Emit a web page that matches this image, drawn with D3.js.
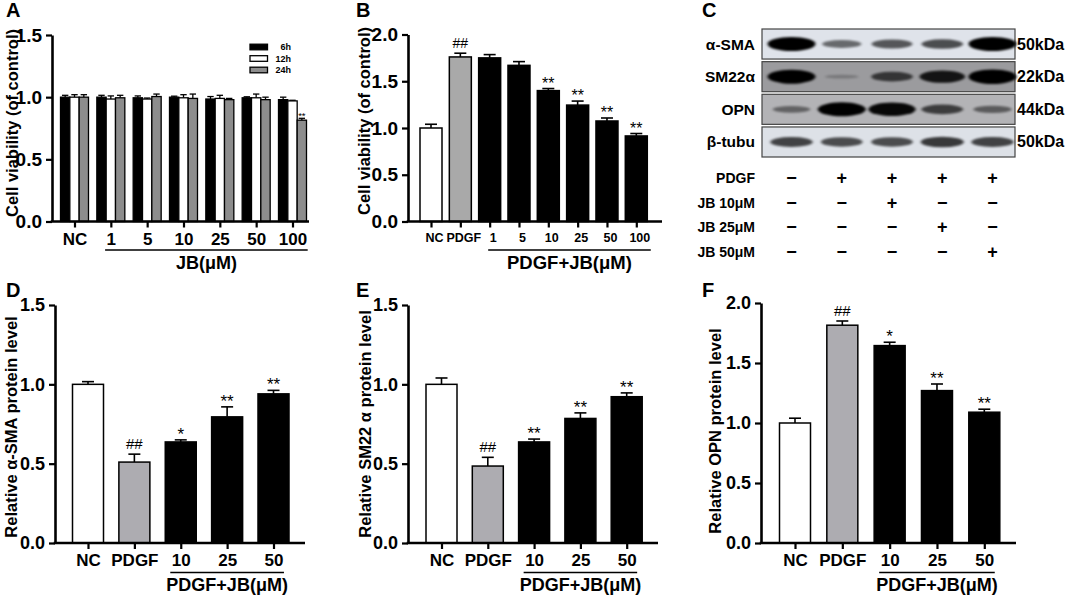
<!DOCTYPE html>
<html>
<head>
<meta charset="utf-8">
<script src="https://cdn.jsdelivr.net/npm/d3@7"></script>
<style>
  body { margin: 0; background: #fff; }
  svg { display: block; font-family: Arial, "Liberation Sans", Helvetica, sans-serif; }
  .axis text { font-weight: bold; fill: #000; }
  .bold { font-weight: bold; }
</style>
</head>
<body>
<div id="chart"></div>
<script>
// ---- 数据 ----
// A: cell viability, JB alone
const aGroups = ["NC", "1", "5", "10", "25", "50", "100"];
const aSeries = ["6h", "12h", "24h"];
const a6h = [1.00, 1.00, 0.995, 1.00, 0.985, 0.995, 0.98];
const a6hErr = [0.015, 0.015, 0.015, 0.008, 0.02, 0.008, 0.02];
const a12h = [1.00, 0.985, 0.985, 0.995, 0.99, 0.995, 0.97];
const a12hErr = [0.02, 0.025, 0.008, 0.025, 0.025, 0.03, 0.005];
const a24h = [1.00, 0.995, 1.005, 0.99, 0.98, 0.98, 0.815];
const a24hErr = [0.02, 0.02, 0.02, 0.035, 0.01, 0.02, 0.015];
const aMarks24h = ["", "", "", "", "", "", "**"];

// B: cell viability with PDGF
const bCats = ["NC", "PDGF", "1", "5", "10", "25", "50", "100"];
const bVals = [1.00, 1.76, 1.75, 1.67, 1.40, 1.245, 1.075, 0.915];
const bErrs = [0.04, 0.04, 0.035, 0.04, 0.022, 0.043, 0.032, 0.026];
const bMarks = ["", "##", "", "", "**", "**", "**", "**"];

// C: western blot (relative band strength per lane) and treatments
const blotRows = ["α-SMA", "SM22α", "OPN", "β-tubu"];
const blotKDa = ["50kDa", "22kDa", "44kDa", "50kDa"];
const bandSMA = [1.0, 0.45, 0.55, 0.6, 1.0];
const bandSM22 = [1.0, 0.08, 0.6, 0.85, 1.05];
const bandOPN = [0.35, 1.0, 0.95, 0.6, 0.4];
const bandTub = [0.65, 0.6, 0.6, 0.7, 0.65];
const treatLabels = ["PDGF", "JB 10μM", "JB 25μM", "JB 50μM"];
const treatPDGF = ["−", "+", "+", "+", "+"];
const treatJB10 = ["−", "−", "+", "−", "−"];
const treatJB25 = ["−", "−", "−", "+", "−"];
const treatJB50 = ["−", "−", "−", "−", "+"];

// D-F: relative protein level
const proteinCats = ["NC", "PDGF", "10", "25", "50"];
const dVals = [1.00, 0.51, 0.637, 0.795, 0.94];
const dErrs = [0.017, 0.05, 0.013, 0.063, 0.022];
const dMarks = ["", "##", "*", "**", "**"];
const eVals = [1.00, 0.485, 0.637, 0.785, 0.922];
const eErrs = [0.04, 0.055, 0.018, 0.035, 0.024];
const eMarks = ["", "##", "**", "**", "**"];
const fVals = [1.00, 1.815, 1.645, 1.27, 1.09];
const fErrs = [0.04, 0.035, 0.028, 0.055, 0.025];
const fMarks = ["", "##", "*", "**", "**"];

// ---- 画布 ----
const width = 1065, height = 597;
const svg = d3.select("#chart").append("svg")
    .attr("width", width)
    .attr("height", height);

svg.append("defs").append("filter")
    .attr("id", "blur").attr("x", "-40%").attr("y", "-150%")
    .attr("width", "180%").attr("height", "400%")
    .append("feGaussianBlur").attr("stdDeviation", "1.8 1.3");

// 坐标轴加粗
function thickAxis(a, w, fontSize) {
    a.select(".domain").attr("stroke", "#000").attr("stroke-width", w);
    a.selectAll(".tick line").attr("stroke", "#000").attr("stroke-width", w * 0.85);
    a.selectAll(".tick text").attr("font-size", fontSize);
}

// y 轴、x 轴、底部横线和标题（各面板共用）
function drawAxes(g, p, x, y) {
    g.append("g").attr("class", "axis")
        .attr("transform", `translate(${p.x0},0)`)
        .call(d3.axisLeft(y).tickValues(p.ticks).tickFormat(d3.format(".1f"))
            .tickSize(6).tickSizeOuter(0).tickPadding(4))
        .call(a => thickAxis(a, 2.6, p.tickFont));

    const xa = g.append("g").attr("class", "axis")
        .attr("transform", `translate(0,${p.yBase})`)
        .call(d3.axisBottom(x).tickSize(6).tickPadding(p.catPad))
        .call(a => thickAxis(a, 2.6, p.catFont));
    xa.select(".domain").remove();
    if (p.catShift) xa.selectAll(".tick text").attr("dx", p.catShift);
    g.append("line")
        .attr("x1", p.x0 - 1.3).attr("x2", p.xEnd)
        .attr("y1", p.yBase).attr("y2", p.yBase)
        .attr("stroke", "#000").attr("stroke-width", 2.6);

    // 处理组下面的横线，宽度跟随刻度文字
    const jb = xa.selectAll(".tick").filter(d => p.jbCats.includes(d)).nodes();
    const left = d3.min(jb, n => x(d3.select(n).datum()) + n.querySelector("text").getBBox().x);
    const right = d3.max(jb, n => {
        const b = n.querySelector("text").getBBox();
        return x(d3.select(n).datum()) + b.x + b.width;
    });
    g.append("line")
        .attr("x1", left - 1).attr("x2", right + 1)
        .attr("y1", p.ulY).attr("y2", p.ulY)
        .attr("stroke", "#000").attr("stroke-width", 1.6);
    g.append("text").attr("class", "bold")
        .attr("x", (left + right) / 2).attr("y", p.ulY + p.ulGap)
        .attr("text-anchor", "middle").attr("font-size", p.ulFont)
        .text(p.ulText);

    // y 轴标题
    g.append("text").attr("class", "bold")
        .attr("transform", `translate(${p.titleX},${p.titleY}) rotate(-90)`)
        .attr("text-anchor", "middle").attr("dominant-baseline", "central")
        .attr("font-size", p.titleFont)
        .text(p.title);
}

// 单组柱状图 (B, D, E, F)
function drawBarPanel(p) {
    const g = svg.append("g");
    const y = d3.scaleLinear().domain([0, p.ymax]).range([p.yBase, p.yTop]);
    const x = d3.scalePoint().domain(p.cats).range([p.cFirst, p.cLast]);
    const fill = i => i === 0 ? "#ffffff" : i === 1 ? p.pdgfFill : "#000000";

    // 误差线 (只画上半)
    const eb = g.selectAll(".eb").data(p.vals).join("g");
    eb.append("line")
        .attr("x1", (d, i) => x(p.cats[i])).attr("x2", (d, i) => x(p.cats[i]))
        .attr("y1", d => y(d)).attr("y2", (d, i) => y(d + p.errs[i]))
        .attr("stroke", "#000").attr("stroke-width", 1.6);
    eb.append("line")
        .attr("x1", (d, i) => x(p.cats[i]) - p.cap / 2)
        .attr("x2", (d, i) => x(p.cats[i]) + p.cap / 2)
        .attr("y1", (d, i) => y(d + p.errs[i])).attr("y2", (d, i) => y(d + p.errs[i]))
        .attr("stroke", "#000").attr("stroke-width", 1.6);

    g.selectAll(".bar").data(p.vals).join("rect")
        .attr("x", (d, i) => x(p.cats[i]) - p.bw / 2)
        .attr("y", d => y(d))
        .attr("width", p.bw)
        .attr("height", d => y(0) - y(d))
        .attr("fill", (d, i) => fill(i))
        .attr("stroke", "#000").attr("stroke-width", 1.5);

    // 显著性标记
    g.selectAll(".sig").data(p.marks).join("text")
        .attr("x", (d, i) => x(p.cats[i]))
        .attr("y", (d, i) => y(p.vals[i] + p.errs[i]) - (d[0] === "#" ? 5 : 0))
        .attr("text-anchor", "middle")
        .attr("font-size", d => d[0] === "#" ? p.sigFont - 2 : p.sigFont)
        .text(d => d);

    drawAxes(g, p, x, y);
}

// ---- A: 分组柱状图 ----
function drawPanelA() {
    const p = {
        x0: 52, xEnd: 309, yBase: 221.5, yTop: 35, ymax: 1.5,
        ticks: [0, 0.5, 1.0, 1.5], tickFont: 19, catFont: 17, catPad: 5,
        jbCats: aGroups.slice(1), ulY: 250, ulGap: 19, ulFont: 18, ulText: "JB(μM)",
        title: "Cell viability (of control)", titleX: 12, titleY: 123, titleFont: 16.5
    };
    const g = svg.append("g");
    const y = d3.scaleLinear().domain([0, p.ymax]).range([p.yBase, p.yTop]);
    const x = d3.scalePoint().domain(aGroups).range([74.5, 292.5]);
    const xs = d3.scaleBand().domain(aSeries).range([-14, 14]);
    const color = d3.scaleOrdinal().domain(aSeries).range(["#000000", "#ffffff", "#8d8d8d"]);
    const series = [
        { key: "6h", vals: a6h, errs: a6hErr },
        { key: "12h", vals: a12h, errs: a12hErr },
        { key: "24h", vals: a24h, errs: a24hErr }
    ];

    series.forEach(s => {
        const cx = i => x(aGroups[i]) + xs(s.key) + xs.bandwidth() / 2;
        const sg = g.append("g");
        sg.selectAll(".eline").data(s.vals).join("line")
            .attr("x1", (d, i) => cx(i)).attr("x2", (d, i) => cx(i))
            .attr("y1", d => y(d)).attr("y2", (d, i) => y(d + s.errs[i]))
            .attr("stroke", "#000").attr("stroke-width", 1.3);
        sg.selectAll(".ecap").data(s.vals).join("line")
            .attr("x1", (d, i) => cx(i) - 3.2).attr("x2", (d, i) => cx(i) + 3.2)
            .attr("y1", (d, i) => y(d + s.errs[i])).attr("y2", (d, i) => y(d + s.errs[i]))
            .attr("stroke", "#000").attr("stroke-width", 1.3);
        sg.selectAll("rect").data(s.vals).join("rect")
            .attr("x", (d, i) => cx(i) - xs.bandwidth() / 2)
            .attr("y", d => y(d))
            .attr("width", xs.bandwidth())
            .attr("height", d => y(0) - y(d))
            .attr("fill", color(s.key))
            .attr("stroke", "#000").attr("stroke-width", 1.3);
    });

    g.selectAll(".sig").data(aMarks24h).join("text")
        .attr("x", (d, i) => x(aGroups[i]) + xs("24h") + xs.bandwidth() / 2)
        .attr("y", (d, i) => y(a24h[i] + a24hErr[i]) + 1)
        .attr("text-anchor", "middle").attr("font-size", 9.5)
        .text(d => d);

    // 图例
    const ly = d3.scalePoint().domain(aSeries).range([47, 70]);
    const lg = g.append("g");
    lg.selectAll("rect").data(aSeries).join("rect")
        .attr("x", 250).attr("y", d => ly(d) - 2.8)
        .attr("width", 17.5).attr("height", 5.6)
        .attr("fill", d => color(d)).attr("stroke", "#000").attr("stroke-width", 1.3);
    lg.selectAll("text").data(aSeries).join("text")
        .attr("class", "bold")
        .attr("x", 291).attr("y", d => ly(d))
        .attr("text-anchor", "end").attr("dominant-baseline", "central")
        .attr("font-size", 9)
        .text(d => d);

    drawAxes(g, p, x, y);
}

// ---- C: 蛋白印迹 ----
function drawPanelC() {
    const g = svg.append("g");
    const lane = d3.scalePoint().domain(d3.range(5)).range([791.5, 992.5]);
    const row = d3.scaleBand().domain(blotRows).range([29, 157]).paddingInner(0.08);
    const rowBg = d3.scaleOrdinal().domain(blotRows).range(["#dfe3ea", "#9b9b9e", "#b3b3b6", "#dde1e7"]);
    const bands = [bandSMA, bandSM22, bandOPN, bandTub];

    blotRows.forEach((r, k) => {
        const top = row(r), h = row.bandwidth();
        g.append("rect")
            .attr("x", 762).attr("y", top).attr("width", 253).attr("height", h)
            .attr("fill", rowBg(r)).attr("stroke", "#444").attr("stroke-width", 1.2);
        g.selectAll(null).data(bands[k]).join("ellipse")
            .attr("cx", (d, i) => lane(i))
            .attr("cy", top + h / 2)
            .attr("rx", d => 16 + 8 * Math.min(d, 1))
            .attr("ry", d => 1.5 + 5.5 * d)
            .attr("fill", "#050505")
            .attr("opacity", d => 0.15 + 0.85 * Math.min(d, 1))
            .attr("filter", "url(#blur)");
        g.append("text").attr("class", "bold")
            .attr("x", 755).attr("y", top + h / 2)
            .attr("text-anchor", "end").attr("dominant-baseline", "central")
            .attr("font-size", 15.5).text(r);
        g.append("text").attr("class", "bold")
            .attr("x", 1017).attr("y", top + h / 2)
            .attr("dominant-baseline", "central")
            .attr("font-size", 16).text(blotKDa[k]);
    });

    // 处理条件表
    const ty = d3.scalePoint().domain(treatLabels).range([178, 252]);
    const signs = [treatPDGF, treatJB10, treatJB25, treatJB50];
    treatLabels.forEach((t, k) => {
        g.append("text").attr("class", "bold")
            .attr("x", 755).attr("y", ty(t))
            .attr("text-anchor", "end").attr("dominant-baseline", "central")
            .attr("font-size", 14).text(t);
        g.selectAll(null).data(signs[k]).join("text")
            .attr("class", "bold")
            .attr("x", (d, i) => lane(i)).attr("y", ty(t))
            .attr("text-anchor", "middle").attr("dominant-baseline", "central")
            .attr("font-size", 18).text(d => d);
    });
}

drawPanelA();

drawBarPanel({
    cats: bCats, vals: bVals, errs: bErrs, marks: bMarks, pdgfFill: "#a9a9a9",
    x0: 408, xEnd: 662, cFirst: 431, cLast: 636.3, bw: 22, cap: 12,
    yBase: 221.5, yTop: 34.5, ymax: 2.0, ticks: [0, 0.5, 1.0, 1.5, 2.0],
    tickFont: 19, catFont: 12.5, catPad: 6, catShift: 3, sigFont: 16,
    jbCats: bCats.slice(2), ulY: 250, ulGap: 19, ulFont: 18.5, ulText: "PDGF+JB(μM)",
    title: "Cell viability (of control)", titleX: 364, titleY: 121, titleFont: 16.5
});

drawPanelC();

const proteinPanel = {
    cats: proteinCats, pdgfFill: "#adacb1", bw: 31, cap: 12,
    yBase: 543, tickFont: 18, catFont: 17, catPad: 5, sigFont: 17,
    jbCats: proteinCats.slice(2), ulY: 572.5, ulGap: 18, ulFont: 18, ulText: "PDGF+JB(μM)",
    titleFont: 16.5
};

drawBarPanel(Object.assign({}, proteinPanel, {
    vals: dVals, errs: dErrs, marks: dMarks,
    x0: 55, xEnd: 305, cFirst: 88, cLast: 273.5,
    yTop: 305, ymax: 1.5, ticks: [0, 0.5, 1.0, 1.5],
    title: "Relative α-SMA protein level", titleX: 11, titleY: 427
}));

drawBarPanel(Object.assign({}, proteinPanel, {
    vals: eVals, errs: eErrs, marks: eMarks,
    x0: 408, xEnd: 658, cFirst: 441.5, cLast: 626.7,
    yTop: 305, ymax: 1.5, ticks: [0, 0.5, 1.0, 1.5],
    title: "Relative SM22 α protein level", titleX: 365, titleY: 424
}));

drawBarPanel(Object.assign({}, proteinPanel, {
    vals: fVals, errs: fErrs, marks: fMarks,
    x0: 761, xEnd: 1016, cFirst: 795, cLast: 984.3,
    yTop: 303, ymax: 2.0, ticks: [0, 0.5, 1.0, 1.5, 2.0],
    title: "Relative OPN protein level", titleX: 715, titleY: 431
}));

// 面板字母
const panelLetters = ["A", "B", "C", "D", "E", "F"];
svg.selectAll(".plabel").data(panelLetters).join("text")
    .attr("class", "bold")
    .attr("x", (d, i) => [6, 356, 702][i % 3])
    .attr("y", (d, i) => i < 3 ? 17 : 297)
    .attr("font-size", 20)
    .text(d => d);
</script>
</body>
</html>
